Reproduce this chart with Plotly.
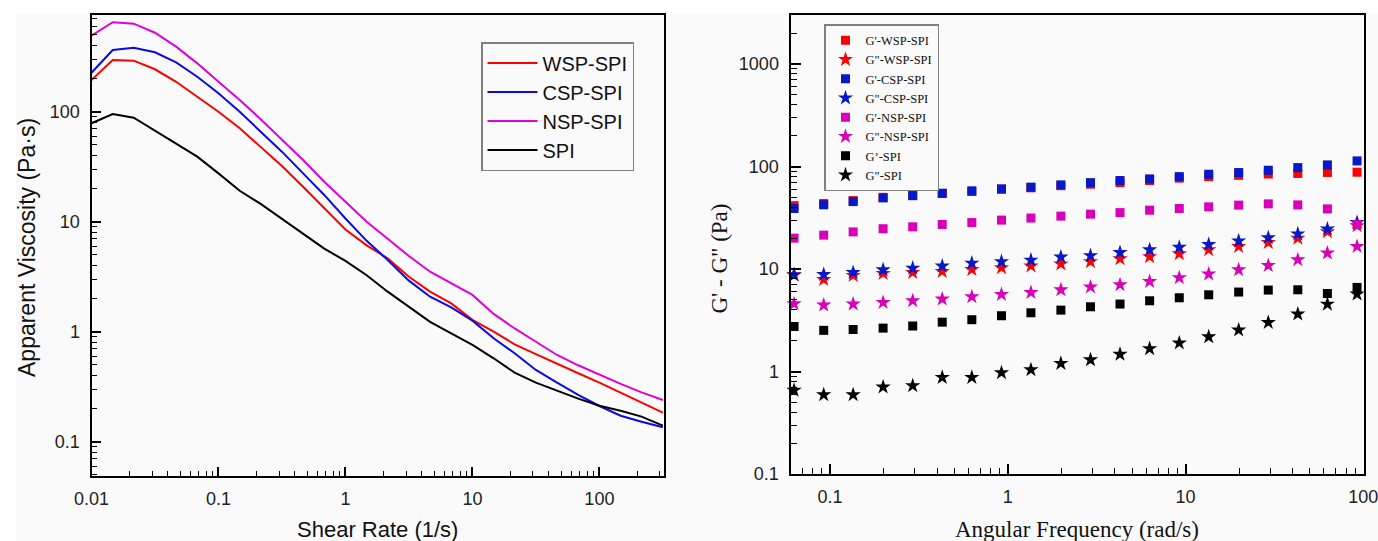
import plotly.graph_objects as go

# ---------------- Left panel data: apparent viscosity vs shear rate ----------------
shear_rate = [0.01, 0.0147, 0.0215, 0.0316, 0.0464, 0.0681, 0.1, 0.147, 0.215, 0.316,
              0.464, 0.681, 1, 1.47, 2.15, 3.16, 4.64, 6.81, 10, 14.7,
              21.5, 31.6, 46.4, 68.1, 100, 147, 215, 316]
visc_wsp = [194, 295, 291, 243, 187, 137, 100, 70.7, 48.1, 32.1,
            20.8, 13.2, 8.5, 6.1, 4.64, 3.16, 2.31, 1.81, 1.28, 1.0,
            0.768, 0.626, 0.508, 0.419, 0.344, 0.279, 0.226, 0.184]
visc_csp = [226, 364, 382, 347, 281, 208, 147, 100, 65.8, 43.3,
            27.5, 17.5, 10.7, 6.7, 4.49, 2.91, 2.08, 1.66, 1.26, 0.871,
            0.637, 0.449, 0.344, 0.266, 0.211, 0.172, 0.152, 0.135]
visc_nsp = [491, 650, 631, 522, 390, 275, 187, 128, 85.3, 55.3,
            36.4, 23.1, 15.2, 10.0, 7.0, 4.87, 3.51, 2.75, 2.16, 1.45,
            1.07, 0.81, 0.614, 0.495, 0.407, 0.335, 0.281, 0.239]
visc_spi = [78.5, 95.3, 88.2, 67.2, 51.6, 39, 27.5, 19.1, 14.5, 10.6,
            7.85, 5.69, 4.4, 3.26, 2.31, 1.69, 1.23, 0.966, 0.757, 0.573,
            0.424, 0.344, 0.289, 0.246, 0.212, 0.191, 0.169, 0.14]
left_names = ["WSP-SPI", "CSP-SPI", "NSP-SPI", "SPI"]

# ---------------- Right panel data: G' and G'' vs angular frequency ----------------
ang_freq = [0.0628, 0.0922, 0.135, 0.199, 0.292, 0.428, 0.628, 0.922, 1.35, 1.99,
            2.92, 4.28, 6.28, 9.22, 13.5, 19.9, 29.2, 42.8, 62.8, 92.2]
gp_wsp = [41.5, 43.5, 46.5, 50, 52, 54.5, 57, 60, 62, 65,
          67.2, 69.6, 73, 77, 79.7, 82, 84.5, 85.6, 87.5, 88]
gpp_wsp = [8.8, 7.9, 8.65, 9.04, 9.24, 9.46, 9.9, 10.3, 10.7, 11.2,
           11.8, 12.6, 13.2, 14.1, 15.4, 16.6, 18.1, 20.0, 23.1, 26.4]
gp_csp = [38.9, 42.3, 45.5, 49.4, 52, 54.9, 57.9, 60.5, 62.9, 66.2,
          69.6, 73, 75.7, 79.7, 84.1, 87.3, 92, 97.6, 103.7, 113.4]
gpp_csp = [8.73, 8.83, 9.24, 9.82, 10.2, 10.7, 11.4, 11.8, 12.2, 13.1,
           13.5, 14.5, 15.4, 16.3, 17.3, 18.8, 20.2, 22.0, 24.6, 28.4]
gp_nsp = [20.0, 21.4, 23.0, 24.7, 25.8, 27.2, 28.4, 30.0, 31.4, 32.8,
          34.3, 35.5, 37.5, 38.9, 40.4, 42, 43.2, 42.2, 38.6, 27.2]
gpp_nsp = [4.58, 4.45, 4.55, 4.71, 4.90, 5.09, 5.36, 5.64, 5.90, 6.26,
           6.67, 7.02, 7.56, 8.21, 8.92, 9.82, 10.8, 12.3, 14.3, 16.6]
gp_spi = [2.75, 2.52, 2.57, 2.65, 2.78, 3.03, 3.20, 3.50, 3.74, 3.97,
          4.28, 4.55, 4.90, 5.24, 5.60, 5.96, 6.23, 6.27, 5.77, 6.61]
gpp_spi = [0.655, 0.594, 0.594, 0.707, 0.727, 0.876, 0.876, 0.973, 1.04, 1.20,
           1.30, 1.47, 1.67, 1.90, 2.18, 2.54, 3.01, 3.63, 4.54, 5.69]
right_names = ["G'-WSP-SPI", 'G"-WSP-SPI', "G'-CSP-SPI", 'G"-CSP-SPI',
               "G'-NSP-SPI", 'G"-NSP-SPI', "G\u2019-SPI", 'G"-SPI']

# tick labels
left_x_ticks = [0.01, 0.1, 1, 10, 100]
left_x_text = ["0.01", "0.1", "1", "10", "100"]
left_y_ticks = [0.1, 1, 10, 100]
left_y_text = ["0.1", "1", "10", "100"]
right_x_ticks = [0.1, 1, 10, 100]
right_x_text = ["0.1", "1", "10", "100"]
right_y_ticks = [0.1, 1, 10, 100, 1000]
right_y_text = ["0.1", "1", "10", "100", "1000"]

RED = "#ff0000"
BLUE_L = "#0a0ae6"
MAG_L = "#e000d8"
BLUE = "#0618c8"
MAG = "#d800b8"
BLACK = "#000000"
BG = "#fafafa"
W, H = 1378, 541

def minor_vals(lo, hi):
    return [m * 10.0 ** e for e in range(lo, hi) for m in range(2, 10)]

fig = go.Figure()

for name, yv, col in zip(left_names, [visc_wsp, visc_csp, visc_nsp, visc_spi],
                         [RED, BLUE_L, MAG_L, BLACK]):
    fig.add_trace(go.Scatter(x=shear_rate, y=yv, mode="lines", name=name,
                             line=dict(color=col, width=2),
                             xaxis="x", yaxis="y", legend="legend"))

right_series = [gp_wsp, gpp_wsp, gp_csp, gpp_csp, gp_nsp, gpp_nsp, gp_spi, gpp_spi]
right_cols = [RED, RED, BLUE, BLUE, MAG, MAG, BLACK, BLACK]
for i, (name, yv, col) in enumerate(zip(right_names, right_series, right_cols)):
    is_star = i % 2 == 1
    fig.add_trace(go.Scatter(x=ang_freq, y=yv, mode="markers", name=name,
                             marker=dict(symbol="star" if is_star else "square",
                                         size=11.5 if is_star else 9, color=col,
                                         line=dict(width=0)),
                             cliponaxis=False,
                             xaxis="x2", yaxis="y2", legend="legend2"))

def px_x(p):
    return p / W

def px_y(p):
    return 1 - p / H

sans = "Liberation Sans, Arial, sans-serif"
serif = "Liberation Serif, Times New Roman, serif"

common = dict(type="log", showgrid=False, zeroline=False, showline=True,
              linecolor="black", linewidth=2, mirror=True, ticks="inside",
              tickwidth=1.5, tickcolor="black", automargin=False,
              ticklabeloverflow="allow")

fig.update_layout(
    template="none",
    width=W, height=H, margin=dict(l=0, r=0, t=0, b=0, pad=0, autoexpand=False),
    paper_bgcolor="white", plot_bgcolor=BG, showlegend=True,
    xaxis=dict(**common, domain=[px_x(91.5), px_x(663.5)], range=[-2, 2.505], anchor="y",
               tickvals=left_x_ticks, ticktext=left_x_text, ticklen=9,
               ticklabelstandoff=5,
               tickfont=dict(family=sans, size=18, color="#222"),
               minor=dict(ticks="inside", ticklen=5, tickwidth=1.2, tickcolor="black",
                          tickvals=minor_vals(-2, 3), showgrid=False)),
    yaxis=dict(**common, domain=[px_y(476), px_y(15)], range=[-1.312, 2.879], anchor="x",
               tickvals=left_y_ticks, ticktext=left_y_text, ticklen=9,
               ticklabelstandoff=6,
               tickfont=dict(family=sans, size=18, color="#222"),
               minor=dict(ticks="inside", ticklen=5, tickwidth=1.2, tickcolor="black",
                          tickvals=minor_vals(-2, 3), showgrid=False)),
    xaxis2=dict(**common, domain=[px_x(790.5), px_x(1363.5)], range=[-1.222, 2.001], anchor="y2",
                tickvals=right_x_ticks, ticktext=right_x_text, ticklen=10,
                ticklabelstandoff=5,
                tickfont=dict(family=sans, size=18, color="#222"),
                minor=dict(ticks="inside", ticklen=6, tickwidth=1.2, tickcolor="black",
                           tickvals=minor_vals(-2, 3), showgrid=False)),
    yaxis2=dict(**common, domain=[px_y(474), px_y(14.5)], range=[-1, 3.483], anchor="x2",
                tickvals=right_y_ticks, ticktext=right_y_text, ticklen=10,
                ticklabelstandoff=6,
                tickfont=dict(family=sans, size=18, color="#222"),
                minor=dict(ticks="inside", ticklen=6, tickwidth=1.2, tickcolor="black",
                           tickvals=minor_vals(-1, 4), showgrid=False)),
    legend=dict(x=px_x(481), y=px_y(42), xanchor="left", yanchor="top",
                bgcolor=BG, bordercolor="#808080", borderwidth=1.5,
                itemwidth=50,
                font=dict(family=sans, size=20, color="#111"), tracegroupgap=0),
    legend2=dict(x=px_x(824), y=px_y(24), xanchor="left", yanchor="top",
                 bgcolor=BG, bordercolor="#808080", borderwidth=1.5,
                 font=dict(family=serif, size=12.5, color="#111"), tracegroupgap=0),
    shapes=[
        dict(type="rect", xref="paper", yref="paper", layer="below",
             x0=px_x(16), x1=1, y0=0, y1=px_y(14),
             fillcolor=BG, line=dict(width=0)),
    ],
    annotations=[
        dict(text="Apparent Viscosity (Pa\u00b7s)", xref="paper", yref="paper",
             x=px_x(27), y=px_y(248), textangle=-90, showarrow=False,
             xanchor="center", yanchor="middle",
             font=dict(family=sans, size=23, color="#111")),
        dict(text="Shear Rate (1/s)", xref="paper", yref="paper",
             x=px_x(377.5), y=px_y(529), showarrow=False,
             xanchor="center", yanchor="middle",
             font=dict(family=sans, size=22, color="#111")),
        dict(text="G' - G\" (Pa)", xref="paper", yref="paper",
             x=px_x(718.5), y=px_y(259), textangle=-90, showarrow=False,
             xanchor="center", yanchor="middle",
             font=dict(family=serif, size=23, color="#111")),
        dict(text="Angular Frequency (rad/s)", xref="paper", yref="paper",
             x=px_x(1077), y=px_y(529), showarrow=False,
             xanchor="center", yanchor="middle",
             font=dict(family=serif, size=23, color="#111")),
    ],
)

fig.write_html("out.html")
